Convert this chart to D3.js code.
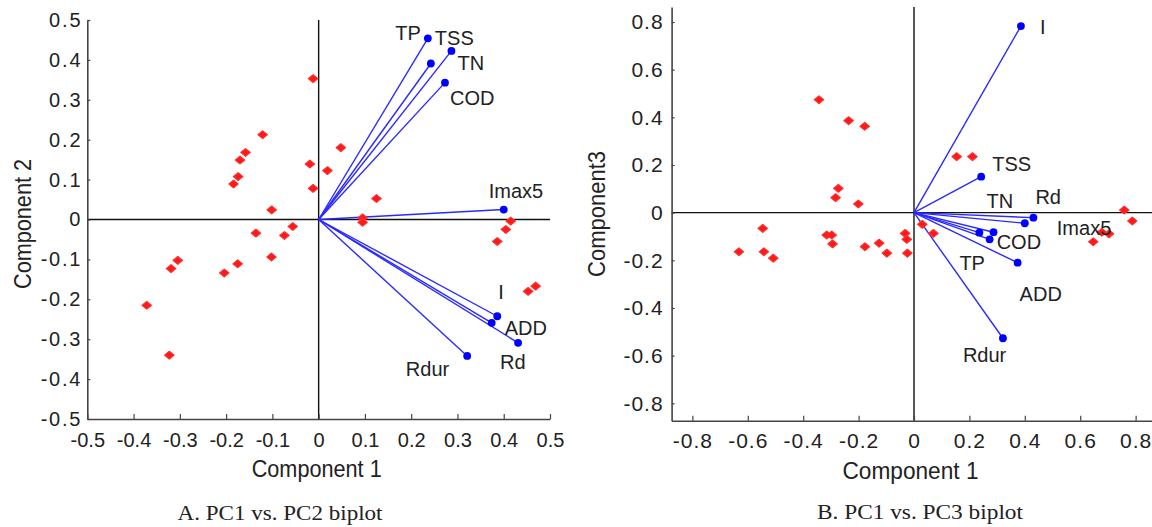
<!DOCTYPE html>
<html>
<head>
<meta charset="utf-8">
<script src="https://cdn.jsdelivr.net/npm/d3@7"></script>
<style>
  body { margin: 0; background: #fff; }
  svg { display: block; }
  .tick text { font-family: Arial, "Liberation Sans", sans-serif; fill: #222; }
  .vlabel { font-family: Arial, "Liberation Sans", sans-serif; font-size: 20px; fill: #222; }
  .axlabel { font-family: Arial, "Liberation Sans", sans-serif; font-size: 23px; fill: #222; }
  .caption { font-family: "Liberation Serif", "DejaVu Serif", serif; font-size: 21px; fill: #222; }
</style>
</head>
<body>
<div class="biplot"></div>
<script>
(function() {
  'use strict';

  const WIDTH = 1152;
  const HEIGHT = 527;

  // Variable loadings
  const VARS = ['TP', 'TSS', 'TN', 'COD', 'Imax5', 'I', 'ADD', 'Rd', 'Rdur'];
  const PC1_LOAD = [0.236, 0.2425, 0.287, 0.273, 0.40, 0.386, 0.374, 0.431, 0.321];
  const PC2_LOAD = [0.454, 0.391, 0.4225, 0.343, 0.025, -0.2425, -0.259, -0.309, -0.342];
  const PC3_LOAD = [-0.084, 0.151, -0.082, -0.112, -0.0445, 0.783, -0.21, -0.021, -0.527];

  // Observation scores, panel A (PC1, PC2)
  const SCORES_A_PC1 = [-0.012, -0.121, -0.158, -0.170, -0.174, -0.184, 0.048, -0.019, 0.019, -0.012,
    0.125, -0.1015, 0.095, 0.095, 0.415, 0.4045, 0.386, -0.1355, -0.074, -0.056,
    -0.102, -0.175, -0.204, -0.3045, -0.319, -0.3715, -0.3227, 0.4527, 0.469];
  const SCORES_A_PC2 = [0.353, 0.2125, 0.168, 0.149, 0.1075, 0.089, 0.18, 0.139, 0.1225, 0.078,
    0.0525, 0.024, 0.004, -0.007, -0.004, -0.025, -0.055, -0.034, -0.04, -0.0175,
    -0.094, -0.111, -0.134, -0.1025, -0.123, -0.215, -0.34, -0.18, -0.167];

  // Observation scores, panel B (PC1, PC3)
  const SCORES_B_PC1 = [-0.343, -0.236, -0.178, 0.154, 0.211, -0.273, -0.283, -0.201, 0.759, 0.788,
    0.678, 0.704, 0.647, -0.546, -0.632, -0.542, -0.508, -0.315, -0.297, -0.294,
    -0.177, -0.126, -0.098, -0.032, -0.026, -0.024, 0.030, 0.070];
  const SCORES_B_PC3 = [0.474, 0.386, 0.3625, 0.235, 0.235, 0.102, 0.063, 0.0365, 0.011, -0.035,
    -0.082, -0.089, -0.122, -0.066, -0.164, -0.164, -0.191, -0.094, -0.094, -0.131,
    -0.143, -0.128, -0.170, -0.087, -0.112, -0.170, -0.049, -0.087];

  // Tick labels
  const TICKS_A = [-0.5, -0.4, -0.3, -0.2, -0.1, 0, 0.1, 0.2, 0.3, 0.4, 0.5];
  const TICKS_B = [-0.8, -0.6, -0.4, -0.2, 0, 0.2, 0.4, 0.6, 0.8];

  const svg = d3.select('.biplot')
    .append('svg')
    .attr('width', WIDTH)
    .attr('height', HEIGHT);

  svg.append('rect').attr('width', WIDTH).attr('height', HEIGHT).attr('fill', '#fff');

  // label offsets (px) from the vector tip; anchor 'end' where the label sits left
  const LABEL_OFFSETS_A = {
    TP: [-7, 2, 'end'], TSS: [4, -18], TN: [6, 19], COD: [5, 22], Imax5: [-15, -12],
    I: [1, -17], ADD: [13, 12], Rd: [-18, 26], Rdur: [-18, 20, 'end']
  };
  const LABEL_OFFSETS_B = {
    TP: [-20, 37], TSS: [11, -6], TN: [-7, -24], COD: [7, 10], Imax5: [32, 12],
    I: [19, 8], ADD: [2, 38], Rd: [2, -14], Rdur: [-40, 24]
  };

  function draw_panel(p) {
    const g = svg.append('g');
    const x = d3.scaleLinear().domain(p.xDomain).range(p.xRange);
    const y = d3.scaleLinear().domain(p.yDomain).range(p.yRange);

    // zero lines
    g.append('line')
      .attr('x1', x(0)).attr('x2', x(0))
      .attr('y1', p.yRange[1]).attr('y2', p.yRange[0])
      .attr('stroke', '#111').attr('stroke-width', 1.4);
    g.append('line')
      .attr('x1', p.xRange[0]).attr('x2', p.xRange[1])
      .attr('y1', y(0)).attr('y2', y(0))
      .attr('stroke', '#111').attr('stroke-width', 1.4);

    // axes
    const ax = g.append('g')
      .attr('transform', 'translate(0,' + p.yRange[0] + ')')
      .call(d3.axisBottom(x).tickValues(p.xTicks).tickFormat(d => String(d))
        .tickSizeInner(-5).tickSizeOuter(0).tickPadding(p.xPad));
    const ay = g.append('g')
      .attr('transform', 'translate(' + p.xRange[0] + ',0)')
      .call(d3.axisLeft(y).tickValues(p.yTicks).tickFormat(d => String(d))
        .tickSizeInner(-3).tickSizeOuter(0).tickPadding(p.yPad));
    [ax, ay].forEach(function(a) {
      a.select('.domain').attr('stroke', '#444').attr('stroke-width', 1.6);
      a.selectAll('.tick line').attr('stroke', '#444').attr('stroke-width', 1.2);
    });
    ax.selectAll('.tick text').attr('font-size', p.xFont).style('letter-spacing', p.xSpacing + 'px');
    ay.selectAll('.tick text').attr('font-size', p.yFont).style('letter-spacing', p.ySpacing + 'px');

    // loading vectors
    const vecs = VARS.map((v, i) => ({ name: v, a: p.loadX[i], b: p.loadY[i] }));
    g.selectAll('.vec').data(vecs).enter().append('line')
      .attr('class', 'vec')
      .attr('x1', x(0)).attr('y1', y(0))
      .attr('x2', d => x(d.a)).attr('y2', d => y(d.b))
      .attr('stroke', '#2a2aff').attr('stroke-width', 1.4);

    // observation points
    const pts = p.scoreX.map((v, i) => [v, p.scoreY[i]]);
    g.selectAll('.obs').data(pts).enter().append('path')
      .attr('class', 'obs')
      .attr('d', d3.symbol(d3.symbolDiamond2, 40))
      .attr('transform', d => 'translate(' + x(d[0]) + ',' + y(d[1]) + ') scale(1.2,1)')
      .attr('fill', '#ff1a1a')
      .attr('stroke', '#ff3030').attr('stroke-width', 1)
      .attr('stroke-linejoin', 'round');

    g.selectAll('.tip').data(vecs).enter().append('circle')
      .attr('class', 'tip')
      .attr('cx', d => x(d.a)).attr('cy', d => y(d.b))
      .attr('r', 3.9)
      .attr('fill', '#0000ff');

    g.selectAll('.vlabel').data(vecs).enter().append('text')
      .attr('class', 'vlabel')
      .attr('x', d => x(d.a) + p.offsets[d.name][0])
      .attr('y', d => y(d.b) + p.offsets[d.name][1])
      .attr('text-anchor', d => p.offsets[d.name][2] || 'start')
      .text(d => d.name);

    // axis titles
    g.append('text')
      .attr('class', 'axlabel')
      .attr('x', p.xTitle[0]).attr('y', p.xTitle[1])
      .attr('text-anchor', 'middle')
      .attr('textLength', p.xTitle[2]).attr('lengthAdjust', 'spacingAndGlyphs')
      .text('Component 1');
    g.append('text')
      .attr('class', 'axlabel')
      .attr('transform', 'translate(' + p.yTitle[0] + ',' + p.yTitle[1] + ') rotate(-90)')
      .attr('text-anchor', 'middle')
      .attr('textLength', p.yTitle[2]).attr('lengthAdjust', 'spacingAndGlyphs')
      .text(p.yName);

    g.append('text')
      .attr('class', 'caption')
      .attr('x', p.caption[0]).attr('y', p.caption[1])
      .attr('text-anchor', 'middle')
      .attr('textLength', p.caption[2]).attr('lengthAdjust', 'spacingAndGlyphs')
      .text(p.captionText);
  }

  draw_panel({
    xDomain: [-0.5, 0.5], xRange: [87.3, 550],
    yDomain: [-0.5, 0.5], yRange: [419, 20],
    xTicks: TICKS_A, yTicks: TICKS_A,
    xPad: 14, yPad: 5, xFont: 20, yFont: 20, xSpacing: 0, ySpacing: 1.8,
    loadX: PC1_LOAD, loadY: PC2_LOAD,
    scoreX: SCORES_A_PC1, scoreY: SCORES_A_PC2,
    offsets: LABEL_OFFSETS_A,
    xTitle: [316.7, 477, 130], yTitle: [31, 224, 130], yName: 'Component 2',
    caption: [280, 520, 205], captionText: 'A. PC1 vs. PC2 biplot'
  });

  draw_panel({
    xDomain: [-0.875, 0.875], xRange: [671.6, 1156.4],
    yDomain: [-0.873, 0.863], yRange: [420.7, 7],
    xTicks: TICKS_B, yTicks: TICKS_B,
    xPad: 12.5, yPad: 8, xFont: 21, yFont: 21, xSpacing: 1, ySpacing: 1,
    loadX: PC1_LOAD, loadY: PC3_LOAD,
    scoreX: SCORES_B_PC1, scoreY: SCORES_B_PC3,
    offsets: LABEL_OFFSETS_B,
    xTitle: [910.5, 479, 136], yTitle: [605, 214, 126], yName: 'Component3',
    caption: [920, 519, 206], captionText: 'B. PC1 vs. PC3 biplot'
  });
})();
</script>
</body>
</html>
